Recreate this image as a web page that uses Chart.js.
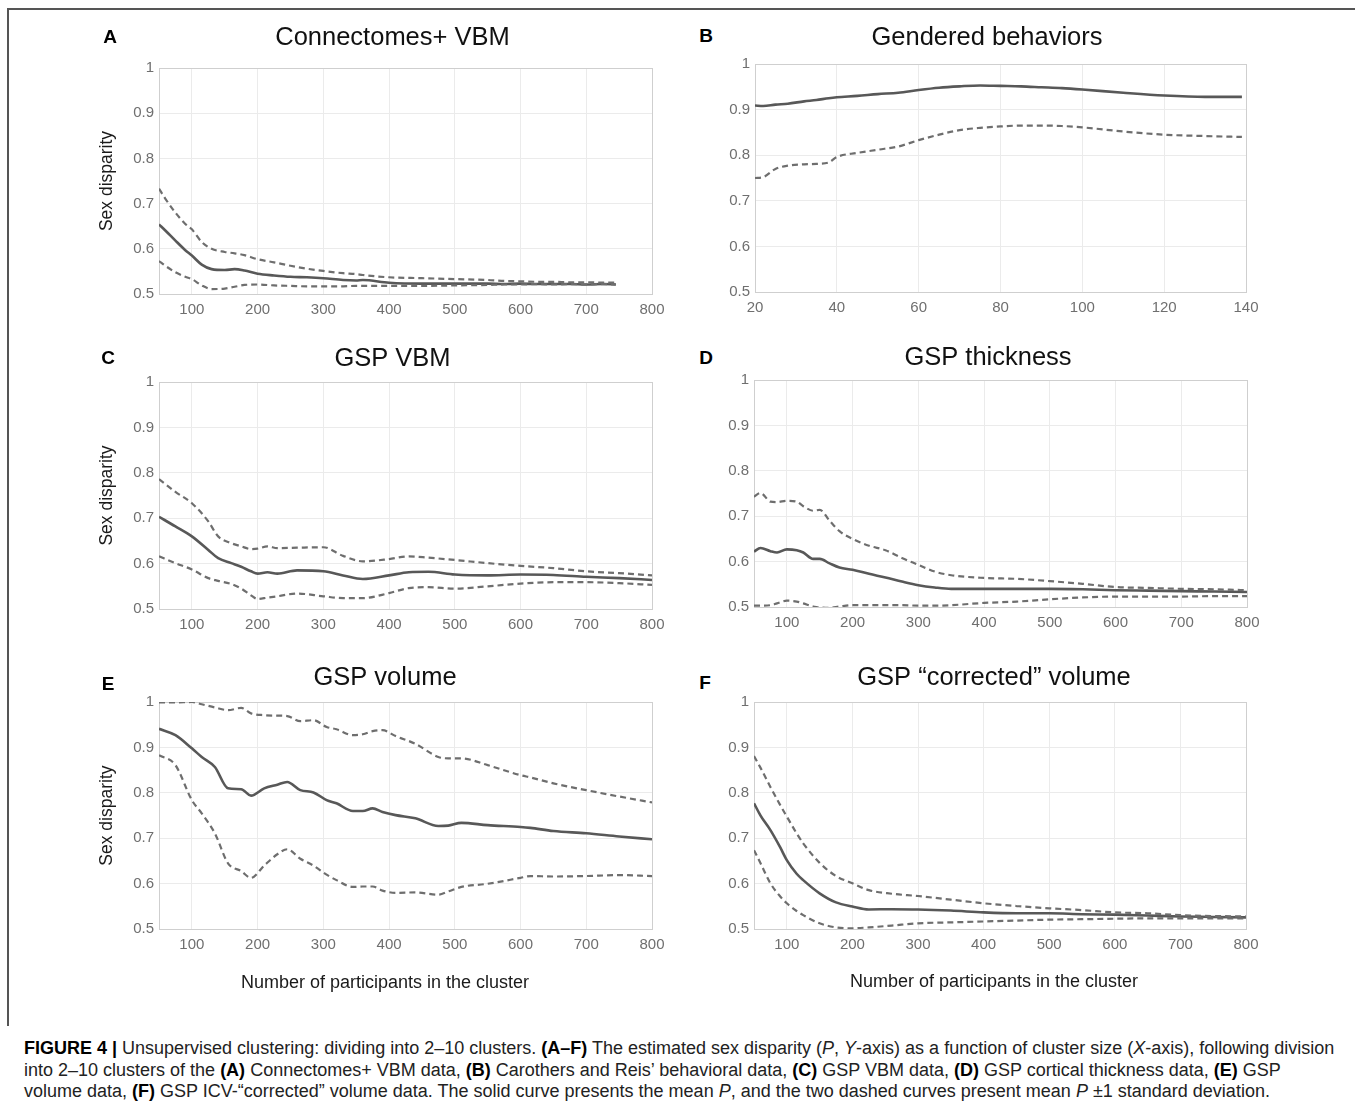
<!DOCTYPE html>
<html>
<head>
<meta charset="utf-8">
<script src="https://cdn.jsdelivr.net/npm/chart.js@4.4.1/dist/chart.umd.min.js"></script>
<style>
  body { margin: 0; background: #fff; width: 1355px; height: 1109px; position: relative; overflow: hidden;
         font-family: 'Liberation Sans', Arial, Helvetica, sans-serif; }
  .frame-l { position: absolute; left: 7px; top: 8px; width: 2px; height: 1018px; background: #555; }
  .frame-t { position: absolute; left: 7px; top: 8px; width: 1348px; height: 2px; background: #555; }
  canvas { position: absolute; }
  .letter { position: absolute; font-weight: bold; font-size: 19px; color: #000; transform: translate(-50%, -50%); }
  .caption { position: absolute; left: 24px; top: 1038px; font-size: 18px; line-height: 21.5px; color: #222; white-space: nowrap; }
  .caption b { color: #000; }
</style>
</head>
<body>
<div class="frame-l"></div>
<div class="frame-t"></div>

<canvas id="cA"></canvas>
<canvas id="cB"></canvas>
<canvas id="cC"></canvas>
<canvas id="cD"></canvas>
<canvas id="cE"></canvas>
<canvas id="cF"></canvas>

<div class="letter" style="left:110px;top:37px">A</div>
<div class="letter" style="left:706px;top:36px">B</div>
<div class="letter" style="left:108px;top:358px">C</div>
<div class="letter" style="left:706px;top:358px">D</div>
<div class="letter" style="left:108px;top:684px">E</div>
<div class="letter" style="left:705px;top:683px">F</div>

<div class="caption">
<div><b>FIGURE 4 |</b> Unsupervised clustering: dividing into 2–10 clusters. <b>(A–F)</b> The estimated sex disparity (<i>P</i>, <i>Y</i>-axis) as a function of cluster size (<i>X</i>-axis), following division</div>
<div>into 2–10 clusters of the <b>(A)</b> Connectomes+ VBM data, <b>(B)</b> Carothers and Reis’ behavioral data, <b>(C)</b> GSP VBM data, <b>(D)</b> GSP cortical thickness data, <b>(E)</b> GSP</div>
<div>volume data, <b>(F)</b> GSP ICV-“corrected” volume data. The solid curve presents the mean <i>P</i>, and the two dashed curves present mean <i>P</i> ±1 standard deviation.</div>
</div>

<script>
// ---- data ----
const yTicks = [0.5, 0.6, 0.7, 0.8, 0.9, 1];
const sizeTicks = [100, 200, 300, 400, 500, 600, 700, 800];
const behavTicks = [20, 40, 60, 80, 100, 120, 140];

// A: Connectomes+ VBM
const xA = [50, 60, 75, 90, 100, 115, 130, 150, 165, 180, 200, 225, 250, 275, 300, 330, 350, 360, 400, 450, 500, 550, 575, 600, 625, 650, 675, 700, 725, 745];
const meanA = [0.654, 0.640, 0.618, 0.597, 0.585, 0.565, 0.555, 0.553, 0.555, 0.552, 0.545, 0.541, 0.538, 0.537, 0.535, 0.531, 0.530, 0.531, 0.525, 0.523, 0.523, 0.523, 0.522, 0.523, 0.522, 0.522, 0.522, 0.521, 0.522, 0.521];
const upA = [0.733, 0.710, 0.680, 0.655, 0.643, 0.615, 0.600, 0.593, 0.590, 0.586, 0.577, 0.570, 0.5625, 0.556, 0.551, 0.546, 0.544, 0.542, 0.537, 0.535, 0.533, 0.531, 0.529, 0.528, 0.527, 0.527, 0.526, 0.526, 0.525, 0.525];
const loA = [0.573, 0.562, 0.548, 0.538, 0.533, 0.519, 0.511, 0.512, 0.516, 0.520, 0.521, 0.519, 0.518, 0.517, 0.517, 0.517, 0.518, 0.518, 0.518, 0.518, 0.519, 0.520, 0.521, 0.521, 0.522, 0.521, 0.522, 0.521, 0.522, 0.521];

// B: Gendered behaviors
const xB = [20, 22, 25, 28, 32, 35, 38, 40, 45, 50, 55, 60, 65, 70, 75, 80, 85, 90, 95, 100, 110, 120, 130, 139];
const meanB = [0.909, 0.908, 0.911, 0.913, 0.918, 0.921, 0.925, 0.927, 0.930, 0.934, 0.937, 0.943, 0.948, 0.951, 0.953, 0.952, 0.951, 0.949, 0.947, 0.944, 0.937, 0.931, 0.928, 0.928];
const loB = [0.750, 0.752, 0.770, 0.777, 0.780, 0.781, 0.784, 0.796, 0.805, 0.812, 0.819, 0.833, 0.845, 0.855, 0.860, 0.863, 0.865, 0.865, 0.864, 0.861, 0.852, 0.845, 0.842, 0.840];

// C: GSP VBM
const xC = [50, 75, 100, 125, 140, 160, 175, 190, 200, 215, 230, 260, 300, 330, 360, 400, 430, 460, 500, 550, 600, 650, 700, 750, 800];
const meanC = [0.703, 0.682, 0.660, 0.630, 0.612, 0.601, 0.593, 0.583, 0.578, 0.581, 0.578, 0.585, 0.583, 0.574, 0.566, 0.574, 0.581, 0.582, 0.576, 0.574, 0.576, 0.575, 0.571, 0.568, 0.564];
const upC = [0.786, 0.758, 0.733, 0.693, 0.660, 0.645, 0.638, 0.632, 0.633, 0.638, 0.634, 0.635, 0.636, 0.617, 0.605, 0.610, 0.616, 0.613, 0.608, 0.601, 0.595, 0.590, 0.583, 0.579, 0.574];
const loC = [0.616, 0.601, 0.587, 0.568, 0.562, 0.555, 0.545, 0.530, 0.522, 0.525, 0.528, 0.534, 0.528, 0.524, 0.524, 0.535, 0.546, 0.548, 0.545, 0.550, 0.556, 0.559, 0.559, 0.557, 0.553];

// D: GSP thickness
const xD = [50, 60, 75, 85, 100, 115, 125, 140, 150, 165, 180, 200, 225, 250, 275, 300, 325, 350, 400, 450, 500, 550, 600, 650, 700, 750, 800];
const meanD = [0.622, 0.630, 0.623, 0.620, 0.627, 0.625, 0.620, 0.606, 0.606, 0.596, 0.587, 0.582, 0.573, 0.565, 0.556, 0.548, 0.543, 0.540, 0.540, 0.540, 0.540, 0.539, 0.537, 0.536, 0.535, 0.534, 0.533];
const upD = [0.743, 0.751, 0.732, 0.731, 0.734, 0.732, 0.722, 0.712, 0.714, 0.690, 0.667, 0.650, 0.635, 0.625, 0.608, 0.593, 0.578, 0.570, 0.564, 0.562, 0.557, 0.551, 0.544, 0.542, 0.540, 0.539, 0.537];
const loD = [0.503, 0.503, 0.504, 0.508, 0.514, 0.512, 0.508, 0.501, 0.499, 0.498, 0.501, 0.504, 0.504, 0.504, 0.504, 0.503, 0.503, 0.504, 0.509, 0.512, 0.517, 0.521, 0.523, 0.523, 0.523, 0.524, 0.524];

// E: GSP volume
const xE = [50, 75, 100, 115, 135, 155, 175, 190, 210, 230, 245, 265, 285, 305, 320, 345, 360, 375, 390, 410, 440, 475, 490, 510, 550, 600, 615, 650, 700, 750, 800];
const meanE = [0.941, 0.927, 0.898, 0.879, 0.857, 0.810, 0.808, 0.794, 0.810, 0.818, 0.824, 0.806, 0.801, 0.784, 0.777, 0.760, 0.760, 0.766, 0.758, 0.751, 0.744, 0.727, 0.728, 0.734, 0.729, 0.725, 0.723, 0.716, 0.711, 0.704, 0.698];
const upE = [0.999, 0.999, 1.0, 0.995, 0.988, 0.982, 0.987, 0.975, 0.971, 0.970, 0.969, 0.958, 0.960, 0.945, 0.940, 0.927, 0.929, 0.936, 0.938, 0.925, 0.908, 0.879, 0.876, 0.876, 0.861, 0.839, 0.834, 0.821, 0.806, 0.792, 0.779];
const loE = [0.883, 0.861, 0.784, 0.755, 0.711, 0.645, 0.628, 0.613, 0.640, 0.665, 0.676, 0.655, 0.640, 0.620, 0.608, 0.593, 0.594, 0.594, 0.585, 0.580, 0.581, 0.576, 0.583, 0.593, 0.600, 0.613, 0.617, 0.616, 0.617, 0.619, 0.617];

// F: GSP "corrected" volume
const xF = [50, 60, 75, 90, 100, 115, 125, 150, 175, 200, 225, 260, 300, 350, 400, 450, 500, 550, 600, 650, 700, 750, 800];
const meanF = [0.777, 0.750, 0.718, 0.680, 0.652, 0.622, 0.608, 0.579, 0.559, 0.550, 0.5435, 0.544, 0.5435, 0.541, 0.537, 0.535, 0.535, 0.533, 0.532, 0.530, 0.528, 0.527, 0.526];
const upF = [0.881, 0.855, 0.813, 0.773, 0.748, 0.711, 0.689, 0.646, 0.617, 0.601, 0.586, 0.578, 0.573, 0.565, 0.557, 0.551, 0.546, 0.542, 0.537, 0.535, 0.531, 0.529, 0.528];
const loF = [0.674, 0.645, 0.601, 0.572, 0.557, 0.540, 0.531, 0.513, 0.504, 0.502, 0.504, 0.508, 0.513, 0.515, 0.517, 0.519, 0.521, 0.522, 0.523, 0.524, 0.524, 0.524, 0.524];

// ---- styling / layout ----
Chart.defaults.font.family = "'Liberation Sans', Arial, Helvetica, sans-serif";
Chart.defaults.animation = false;

const GRID = '#ebebeb';
const EDGE = '#cfcfcf';
const TICK = '#6f6f6f';
const TITLE_SIZE = 25.5;
const XTITLE_SIZE = 18;
const XAXIS_H = 32;

// left/right: canvas edges (title is centred between them); plot: [left, top, right, bottom] in page px
const panels = [
  { id: 'cA', title: 'Connectomes+ VBM', x: xA, mean: meanA, dashed: [upA, loA], xMin: 50, xMax: 800, xTicks: sizeTicks,
    left: 95, right: 690, titleY: 38, plot: [159, 68, 652, 294], yTitle: 'Sex disparity' },
  { id: 'cB', title: 'Gendered behaviors', x: xB, mean: meanB, dashed: [loB], xMin: 20, xMax: 140, xTicks: behavTicks,
    left: 715, right: 1259, titleY: 38, plot: [755, 64, 1246, 292] },
  { id: 'cC', title: 'GSP VBM', x: xC, mean: meanC, dashed: [upC, loC], xMin: 50, xMax: 800, xTicks: sizeTicks,
    left: 95, right: 690, titleY: 359, plot: [159, 382, 652, 609], yTitle: 'Sex disparity' },
  { id: 'cD', title: 'GSP thickness', x: xD, mean: meanD, dashed: [upD, loD], xMin: 50, xMax: 800, xTicks: sizeTicks,
    left: 715, right: 1261, titleY: 358, plot: [754, 380, 1247, 607] },
  { id: 'cE', title: 'GSP volume', x: xE, mean: meanE, dashed: [upE, loE], xMin: 50, xMax: 800, xTicks: sizeTicks,
    left: 95, right: 675, titleY: 678, plot: [159, 702, 652, 929], yTitle: 'Sex disparity',
    xTitle: 'Number of participants in the cluster', xTitleY: 983 },
  { id: 'cF', title: 'GSP “corrected” volume', x: xF, mean: meanF, dashed: [upF, loF], xMin: 50, xMax: 800, xTicks: sizeTicks,
    left: 715, right: 1273, titleY: 678, plot: [754, 702, 1246, 929],
    xTitle: 'Number of participants in the cluster', xTitleY: 982 }
];

function build(p) {
  const canvas = document.getElementById(p.id);
  const top = p.titleY - 26;
  const titleLH = TITLE_SIZE * 1.2;
  const subLH = XTITLE_SIZE * 1.2;
  const tPadTop = p.titleY - top - titleLH / 2;
  const tPadBottom = p.plot[1] - p.titleY - titleLH / 2;
  let height = p.plot[3] - top + XAXIS_H;
  let subPadTop = 0;
  if (p.xTitle) {
    subPadTop = p.xTitleY - p.plot[3] - XAXIS_H - subLH / 2;
    height += subPadTop + subLH + 4;
  }
  canvas.width = p.right - p.left;
  canvas.height = Math.round(height);
  canvas.style.left = p.left + 'px';
  canvas.style.top = top + 'px';

  const pts = ys => p.x.map((x, i) => ({ x: x, y: ys[i] }));
  const datasets = p.dashed.map(ys => ({
    data: pts(ys), borderColor: '#6e6e6e', borderWidth: 2.2, borderDash: [6, 4],
    pointRadius: 0, cubicInterpolationMode: 'monotone'
  }));
  datasets.push({
    data: pts(p.mean), borderColor: '#585858', borderWidth: 2.6,
    pointRadius: 0, cubicInterpolationMode: 'monotone'
  });

  new Chart(canvas, {
    type: 'line',
    data: { datasets: datasets },
    options: {
      responsive: false,
      events: [],
      layout: { padding: 0 },
      plugins: {
        legend: { display: false },
        tooltip: { enabled: false },
        title: {
          display: true, text: p.title, color: '#111',
          font: { size: TITLE_SIZE, weight: 'normal' },
          padding: { top: tPadTop, bottom: tPadBottom }
        },
        subtitle: {
          display: !!p.xTitle, text: p.xTitle || '', position: 'bottom', color: '#1a1a1a',
          font: { size: XTITLE_SIZE, weight: 'normal' },
          padding: { top: subPadTop, bottom: 4 }
        }
      },
      scales: {
        x: {
          type: 'linear', min: p.xMin, max: p.xMax,
          afterBuildTicks: s => { s.ticks = p.xTicks.map(v => ({ value: v })); },
          // fixed axis height; right inset comes from scale padding so the title stays centred on the canvas
          afterFit: s => { s.height = XAXIS_H; s.paddingLeft = 0; s.paddingRight = p.right - p.plot[2]; },
          grid: { drawTicks: false, color: c => (c.tick && c.tick.value === p.xMax ? EDGE : GRID) },
          border: { color: EDGE },
          ticks: { padding: 7, color: TICK, font: { size: 15 }, maxRotation: 0, autoSkip: false }
        },
        y: {
          type: 'linear', min: 0.5, max: 1,
          afterBuildTicks: s => { s.ticks = yTicks.map(v => ({ value: v })); },
          afterFit: s => { s.width = p.plot[0] - p.left; s.paddingTop = 0; s.paddingBottom = 0; },
          grid: { drawTicks: false, color: c => (c.tick && c.tick.value === 1 ? EDGE : GRID) },
          border: { color: EDGE },
          ticks: { padding: 5, color: TICK, font: { size: 15 }, callback: v => String(v) },
          title: {
            display: !!p.yTitle, text: p.yTitle || '', color: '#1a1a1a',
            font: { size: 17.5 }, padding: { top: 1.5, bottom: 0 }
          }
        }
      }
    }
  });
}

panels.forEach(build);
</script>
</body>
</html>
